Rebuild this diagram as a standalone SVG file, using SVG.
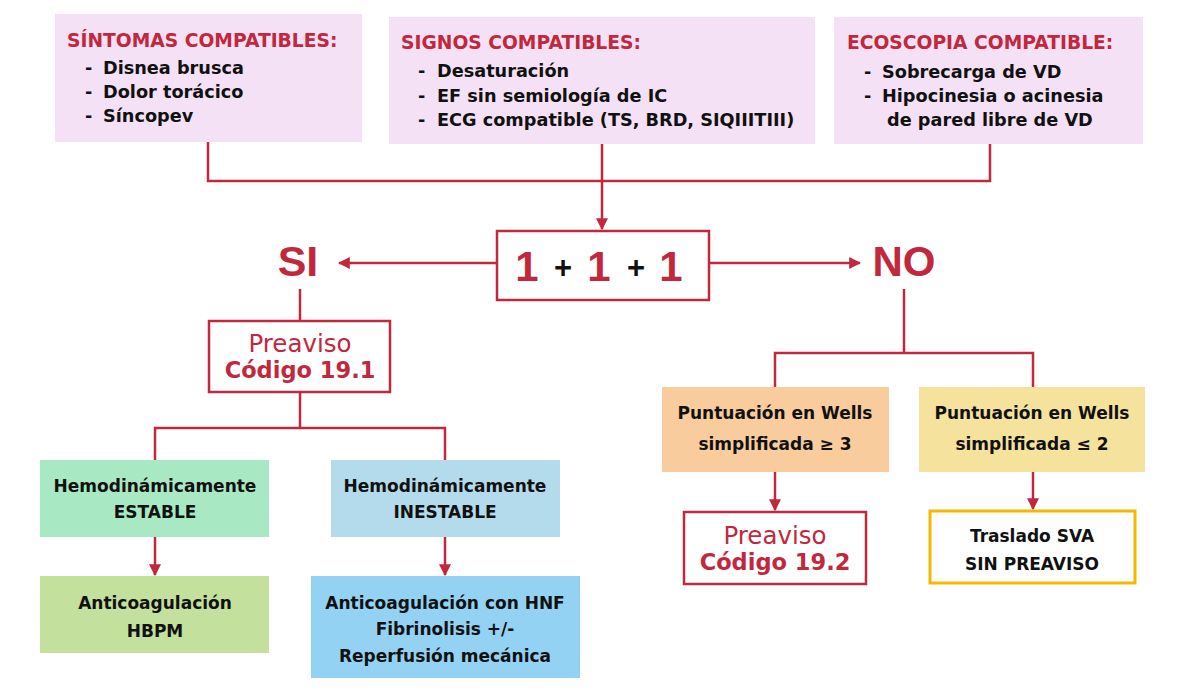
<svg xmlns="http://www.w3.org/2000/svg" width="1186" height="692" viewBox="0 0 1186 692">
<defs>
<marker id="ah" viewBox="0 0 10 10" refX="9" refY="5" markerWidth="12" markerHeight="12" markerUnits="userSpaceOnUse" orient="auto">
<path d="M0,0 L10,5 L0,10 z" fill="#c1283e"/>
</marker>
</defs>
<style>
text{font-family:"DejaVu Sans","Liberation Sans",sans-serif;font-weight:bold}
.title{fill:#c1283e;font-size:18.7px}
.item{fill:#111;font-size:17.7px}
.node{font-size:17px;fill:#111;text-anchor:middle}
.red{fill:#c1283e}
.big{font-family:"Liberation Sans",Arial,sans-serif;fill:#c1283e;text-anchor:middle}
.pre{fill:#c1283e;text-anchor:middle;font-weight:normal;font-size:24.5px}
.cod{fill:#c1283e;text-anchor:middle;font-size:22.5px}
.ln{stroke:#c1283e;stroke-width:2.5;fill:none}
.box{fill:#f4e1f5}
</style>
<rect width="1186" height="692" fill="#fff"/>
<g id="connectors">
<polyline class="ln" points="208,142 208,181 990,181 990,144"/>
<line class="ln" x1="602" y1="144" x2="602" y2="229" marker-end="url(#ah)"/>
<line class="ln" x1="497" y1="263" x2="339" y2="263" marker-end="url(#ah)"/>
<line class="ln" x1="709" y1="263" x2="860" y2="263" marker-end="url(#ah)"/>
<line class="ln" x1="300" y1="289" x2="300" y2="321"/>
<polyline class="ln" points="155,460 155,428 445,428 445,460"/>
<line class="ln" x1="300" y1="392" x2="300" y2="428"/>
<line class="ln" x1="155" y1="537" x2="155" y2="575" marker-end="url(#ah)"/>
<line class="ln" x1="445" y1="537" x2="445" y2="575" marker-end="url(#ah)"/>
<line class="ln" x1="904" y1="289" x2="904" y2="353"/>
<polyline class="ln" points="775,387 775,353 1033,353 1033,387"/>
<line class="ln" x1="775" y1="472" x2="775" y2="510" marker-end="url(#ah)"/>
<line class="ln" x1="1033" y1="472" x2="1033" y2="509" marker-end="url(#ah)"/>
</g>
<g id="sintomas">
<rect class="box" x="55" y="14" width="307" height="128"/>
<text class="title" x="67" y="47">SÍNTOMAS COMPATIBLES:</text>
<text class="item" x="85" y="74">-</text><text class="item" x="103" y="74">Disnea brusca</text>
<text class="item" x="85" y="98">-</text><text class="item" x="103" y="98">Dolor torácico</text>
<text class="item" x="85" y="122">-</text><text class="item" x="103" y="122">Síncopev</text>
</g>
<g id="signos">
<rect class="box" x="389" y="17" width="426" height="127"/>
<text class="title" x="401" y="49">SIGNOS COMPATIBLES:</text>
<text class="item" x="418" y="77">-</text><text class="item" x="437" y="77">Desaturación</text>
<text class="item" x="418" y="102">-</text><text class="item" x="437" y="102">EF sin semiología de IC</text>
<text class="item" x="418" y="126">-</text><text class="item" x="437" y="126">ECG compatible (TS, BRD, SIQIIITIII)</text>
</g>
<g id="ecoscopia">
<rect class="box" x="834" y="17" width="309" height="127"/>
<text class="title" x="847" y="49">ECOSCOPIA COMPATIBLE:</text>
<text class="item" x="864" y="78">-</text><text class="item" x="882" y="78">Sobrecarga de VD</text>
<text class="item" x="864" y="102">-</text><text class="item" x="882" y="102">Hipocinesia o acinesia</text>
<text class="item" x="887" y="126">de pared libre de VD</text>
</g>
<g id="suma">
<rect x="497" y="231" width="212" height="69" fill="#fff" stroke="#c1283e" stroke-width="2.5"/>
<text class="big" x="527" y="281" style="font-size:42px">1</text>
<text class="big" x="563" y="278" style="font-size:31px;fill:#111">+</text>
<text class="big" x="599" y="281" style="font-size:42px">1</text>
<text class="big" x="636" y="278" style="font-size:31px;fill:#111">+</text>
<text class="big" x="671" y="281" style="font-size:42px">1</text>
</g>
<g id="si"><text class="big" x="298" y="276" style="font-size:43px">SI</text></g>
<g id="no"><text class="big" x="904" y="276" style="font-size:42px">NO</text></g>
<g id="preaviso191">
<rect x="209" y="321" width="181" height="71" fill="#fff" stroke="#c1283e" stroke-width="2.5"/>
<text class="pre" x="300" y="352">Preaviso</text>
<text class="cod" x="300" y="378">Código 19.1</text>
</g>
<g id="estable">
<rect x="40" y="460" width="229" height="77" fill="#a8e9c4"/>
<text class="node" x="155" y="492">Hemodinámicamente</text>
<text class="node" x="155" y="518">ESTABLE</text>
</g>
<g id="inestable">
<rect x="331" y="460" width="229" height="77" fill="#b3dbec"/>
<text class="node" x="445" y="492">Hemodinámicamente</text>
<text class="node" x="445" y="518">INESTABLE</text>
</g>
<g id="hbpm">
<rect x="40" y="576" width="229" height="77" fill="#c3e09c"/>
<text class="node" x="155" y="609">Anticoagulación</text>
<text class="node" x="155" y="637">HBPM</text>
</g>
<g id="hnf">
<rect x="311" y="576" width="269" height="102" fill="#93d2f3"/>
<text class="node" x="445" y="609">Anticoagulación con HNF</text>
<text class="node" x="445" y="635">Fibrinolisis +/-</text>
<text class="node" x="445" y="662">Reperfusión mecánica</text>
</g>
<g id="wells3">
<rect x="662" y="387" width="227" height="85" fill="#f8cc9c"/>
<text class="node" x="775" y="419">Puntuación en Wells</text>
<text class="node" x="775" y="450">simplificada ≥ 3</text>
</g>
<g id="wells2">
<rect x="919" y="387" width="226" height="85" fill="#f5e29d"/>
<text class="node" x="1032" y="419">Puntuación en Wells</text>
<text class="node" x="1032" y="450">simplificada ≤ 2</text>
</g>
<g id="preaviso192">
<rect x="684" y="512" width="182" height="72" fill="#fff" stroke="#c1283e" stroke-width="2.5"/>
<text class="pre" x="775" y="544">Preaviso</text>
<text class="cod" x="775" y="570">Código 19.2</text>
</g>
<g id="traslado">
<rect x="930" y="511" width="205" height="72" fill="#fff" stroke="#f5b800" stroke-width="3"/>
<text class="node" x="1032" y="542">Traslado SVA</text>
<text class="node" x="1032" y="570">SIN PREAVISO</text>
</g>
</svg>
